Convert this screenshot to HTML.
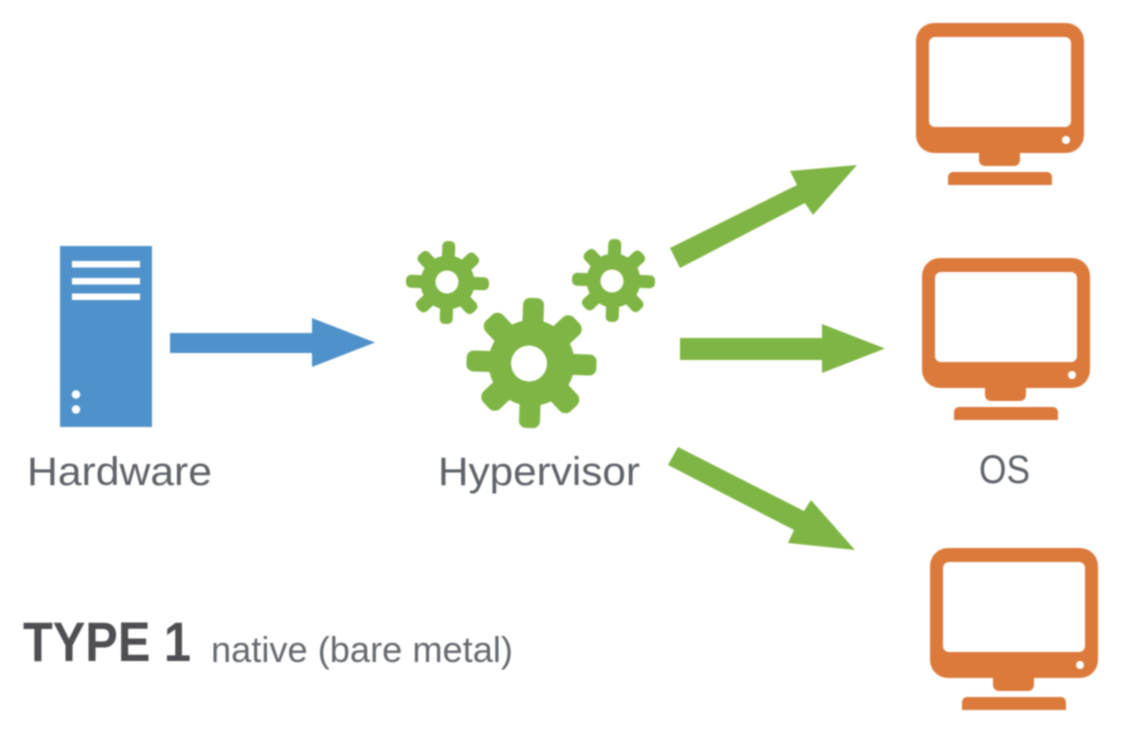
<!DOCTYPE html>
<html>
<head>
<meta charset="utf-8">
<style>
html,body{margin:0;padding:0;background:#fff;width:1124px;height:736px;overflow:hidden}
svg{display:block;filter:blur(.7px)}
text{font-family:"Liberation Sans",sans-serif}
</style>
</head>
<body>
<svg width="1124" height="736" viewBox="0 0 1124 736" xmlns="http://www.w3.org/2000/svg">
<defs>
<g id="monitor">
  <path fill-rule="evenodd" fill="#dc7a3b" d="M934 23H1066a18 18 0 0 1 18 18V135a18 18 0 0 1-18 18H934a18 18 0 0 1-18-18V41a18 18 0 0 1 18-18ZM935 37a6 6 0 0 0-6 6V121a6 6 0 0 0 6 6H1065a6 6 0 0 0 6-6V43a6 6 0 0 0-6-6Z"/>
  <path fill="#dc7a3b" d="M979 150H1020V160a6 6 0 0 1-6 6H985a6 6 0 0 1-6-6Z"/>
  <path fill="#dc7a3b" d="M953 172H1047a5 5 0 0 1 5 5V185H948V177a5 5 0 0 1 5-5Z"/>
  <circle cx="1066" cy="140" r="4" fill="#fff"/>
</g>
<g id="gearBig" fill="#7fb544">
  <circle r="43"/>
  <rect x="-10.500" y="-65" width="21" height="130" rx="7"/>
  <rect x="-12" y="-62" width="24" height="124" rx="8" transform="rotate(45)"/>
  <rect x="-10.500" y="-65" width="21" height="130" rx="7" transform="rotate(90)"/>
  <rect x="-12" y="-62" width="24" height="124" rx="8" transform="rotate(135)"/>
</g>
<g id="gearSmall" fill="#7fb544">
  <circle r="27"/>
  <rect x="-6.500" y="-41.500" width="13" height="83" rx="5"/>
  <rect x="-7" y="-39.500" width="14" height="79" rx="5" transform="rotate(45)"/>
  <rect x="-6.500" y="-41.500" width="13" height="83" rx="5" transform="rotate(90)"/>
  <rect x="-7" y="-39.500" width="14" height="79" rx="5" transform="rotate(135)"/>
</g>
</defs>

<!-- Server -->
<rect x="60" y="246" width="92" height="181" fill="#4f92cb"/>
<rect x="72" y="261" width="68" height="6.5" fill="#fff"/>
<rect x="72" y="278" width="68" height="6.5" fill="#fff"/>
<rect x="72" y="293.500" width="68" height="6.5" fill="#fff"/>
<circle cx="76" cy="394.500" r="4.200" fill="#fff"/>
<circle cx="76" cy="409.500" r="4.200" fill="#fff"/>

<!-- Blue arrow -->
<polygon fill="#4f92cb" points="170,333 312,333 312,318 375,342.500 312,367 312,353 170,353"/>

<!-- Gears -->
<use href="#gearBig" transform="translate(531.500 363) rotate(2)"/>
<circle cx="529" cy="363.500" r="18" fill="#fff"/>
<use href="#gearSmall" transform="translate(447.500 282.500) rotate(2)"/>
<circle cx="447" cy="282" r="11.500" fill="#fff"/>
<use href="#gearSmall" transform="translate(613.500 280.500) rotate(2)"/>
<circle cx="612" cy="281" r="11.500" fill="#fff"/>

<!-- Green arrows -->
<polygon fill="#7fb544" points="670,248 797,185 790,171 857,165 813,215 805,203 680,268"/>
<polygon fill="#7fb544" points="680,338 822,338 822,324 885,348.500 822,373 822,360 680,360"/>
<polygon fill="#7fb544" points="678,447 804,511 811,500 855,550 788,543 794,530 668,465"/>

<!-- Monitors -->
<use href="#monitor"/>
<use href="#monitor" transform="translate(6 235)"/>
<use href="#monitor" transform="translate(14 525)"/>

<!-- Labels -->
<text x="27" y="485" font-size="40" fill="#5f6368" textLength="185" lengthAdjust="spacingAndGlyphs">Hardware</text>
<text x="438" y="485" font-size="40" fill="#5f6368" textLength="202" lengthAdjust="spacingAndGlyphs">Hypervisor</text>
<text x="979" y="483" font-size="40" fill="#5f6368" textLength="51" lengthAdjust="spacingAndGlyphs">OS</text>
<text x="23" y="661" font-size="56" font-weight="bold" fill="#4f4f53" textLength="168" lengthAdjust="spacingAndGlyphs">TYPE 1</text>
<text x="211" y="662" font-size="36" fill="#666a6f" textLength="302" lengthAdjust="spacingAndGlyphs">native (bare metal)</text>
</svg>
</body>
</html>
